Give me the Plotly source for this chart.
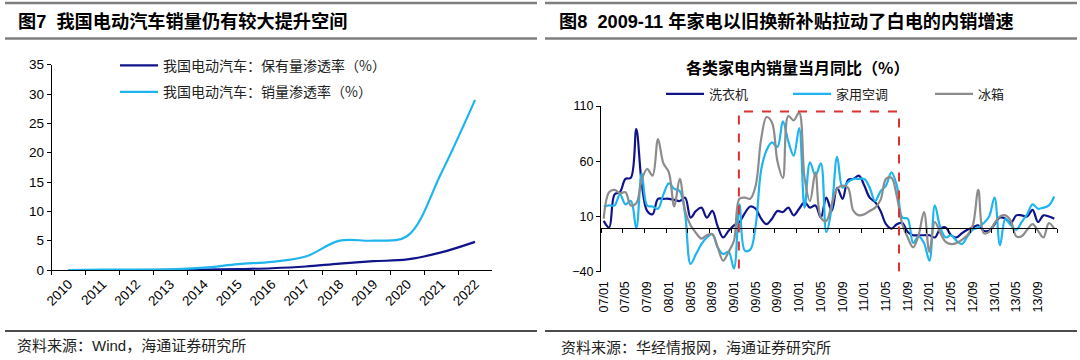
import plotly.graph_objects as go

W, H = 1080, 360

# ---------------- data: left chart ----------------
years = ["2010", "2011", "2012", "2013", "2014", "2015", "2016",
         "2017", "2018", "2019", "2020", "2021", "2022"]
stock_pen = [0.0, 0.0, 0.0, 0.02, 0.05, 0.15, 0.3, 0.6, 1.1, 1.5, 1.8, 3.0, 4.8]
sales_pen = [0.0, 0.05, 0.05, 0.1, 0.4, 1.0, 1.4, 2.3, 5.0, 5.0, 5.8, 16.5, 29.0]
left_names = ["我国电动汽车：保有量渗透率（%）", "我国电动汽车：销量渗透率（%）"]

# ---------------- data: right chart ----------------
months = [f"{y:02d}/{m:02d}" for y in range(7, 14) for m in range(1, 13)]
washer = [6, 0, 30, 32, 44, 45, 89, 40, 15, 12, 26, 26, 26, 25, 24, 27, 9, 15, 18, 9,
          15, 1, -9, -3, 2, 5, 13, 19, 17, 8, 3, 8, 15, 14, 18, 11, 17, 23, 18, 20,
          9, 27, 15, 36, 26, 43, 44, 47, 38, 27, 23, 15, 3, -1, 3, 4, -4, -7, -7, -7,
          -7, -9, -1, 0, -7, -9, -5, -2, 0, 2, -3, -3, 3, 9, 8, 4, 11, 11, 10, 16,
          5, 11, 10, 8]
aircon = [19, 20, 20, 30, 21, 24, -1, 49, 20, 19, 17, 30, 40, 35, 33, 12, -33, -24, -15, -9,
          -6, -18, -24, -22, -37, 21, -21, -20, 2, 52, 70, 77, 73, 96, 78, 65, 90, 18, 59, 47,
          58, -4, 18, 64, 36, 41, 44, 44, 44, 36, 24, 33, 38, 50, 38, 9, 8, -14, -8, -14,
          -30, 20, 0, -9, -7, -12, -15, -8, -2, 0, 4, 10, 27, -16, 8, 2, -2, 5, 12, 21,
          17, 18, 20, 28]
fridge = [8, 32, 34, 31, 32, 20, 22, 43, 53, 47, 80, 58, 50, 19, 44, 15, 2, -5, -10, -7,
          -6, -18, -30, -22, -12, 26, 27, 26, 38, 80, 100, 95, 60, 45, 101, 97, 104, 45, 24, 50,
          9, 6, 21, 35, 38, 36, 15, 11, 12, 15, 18, 25, 44, 45, 28, 3, -9, -18, -7, 14,
          -22, 5, -5, -13, -15, -14, -11, -7, 2, 34, -5, -4, 4, 10, 11, 6, -8, -8, -2, 3,
          -3, -9, 4, -1]
right_names = ["洗衣机", "家用空调", "冰箱"]
tick_labels = months[::4]
highlight = (24.9, 54.4, -41.5, 105.0)   # 2009-11 以旧换新 period box (x0, x1, y0, y1)

# ---------------- styling ----------------
NAVY = "#10148A"
SKY = "#1EB4EE"
GREY = "#8C8C8C"
CJK = "Noto Sans CJK SC"
LAT = "Liberation Sans, Arial, Noto Sans CJK SC"


def px_x(p):
    return p / W


def px_y(p):
    return 1 - p / H


fig = go.Figure()

# left traces
left_colors = [NAVY, SKY]
for k, (vals, name, col) in enumerate(zip([stock_pen, sales_pen], left_names, left_colors)):
    fig.add_trace(go.Scatter(
        x=years, y=vals, name=name, mode="lines",
        line=dict(color=col, width=2.2, shape="spline", smoothing=1),
        xaxis="x", yaxis="y", legend="legend" if k == 0 else "legend2",
        hoverinfo="skip"))

# right traces
right_colors = [NAVY, SKY, GREY]
right_legends = ["legend3", "legend4", "legend5"]
for vals, name, col, lg in zip([washer, aircon, fridge], right_names, right_colors, right_legends):
    fig.add_trace(go.Scatter(
        x=months, y=vals, name=name, mode="lines",
        line=dict(color=col, width=2.2, shape="spline", smoothing=1),
        xaxis="x2", yaxis="y2", legend=lg, hoverinfo="skip"))

# invisible helper trace for the zero-line axis with ticks
fig.add_trace(go.Scatter(x=months, y=washer, mode="lines", line=dict(width=0),
                         opacity=0, showlegend=False, hoverinfo="skip",
                         xaxis="x3", yaxis="y2"))

ydom2 = [px_y(271.7), px_y(106)]
yr2 = [-40, 110]
zero_pos = ydom2[0] + (0 - yr2[0]) / (yr2[1] - yr2[0]) * (ydom2[1] - ydom2[0])

axis_font = dict(family=LAT, size=13.5, color="#000000")
fig.update_layout(
    width=W, height=H, margin=dict(l=0, r=0, t=0, b=0, autoexpand=False),
    paper_bgcolor="white", plot_bgcolor="white",
    xaxis=dict(domain=[px_x(51.7), px_x(492)], anchor="y", type="category",
               range=[-0.5, len(years) - 0.5], tickson="boundaries",
               ticks="outside", ticklen=4, tickcolor="#000", showline=True,
               linecolor="#000", linewidth=1, showgrid=False, tickangle=-45,
               tickfont=axis_font, automargin=False),
    yaxis=dict(domain=[px_y(270), px_y(64.7)], anchor="x", range=[0, 35], dtick=5,
               ticks="outside", ticklen=4, tickcolor="#000", showline=True,
               linecolor="#000", linewidth=1, showgrid=False, zeroline=False,
               tickfont=axis_font, automargin=False),
    xaxis2=dict(domain=[px_x(601), px_x(1057)], anchor="y2", type="category",
                categoryorder="array", categoryarray=months,
                range=[-0.5, len(months) - 0.5], showline=False, ticks="",
                tickmode="array", tickvals=tick_labels, ticktext=tick_labels,
                tickangle=-90, ticklabelstandoff=6, showgrid=False, automargin=False,
                tickfont=dict(family=LAT, size=12.5, color="#000")),
    xaxis3=dict(domain=[px_x(601), px_x(1057)], anchor="free", position=zero_pos,
                overlaying="x2", type="category", categoryorder="array",
                categoryarray=months, range=[-0.5, len(months) - 0.5],
                showline=True, linecolor="#000", linewidth=1.5, ticks="outside",
                ticklen=4, tickcolor="#000", tickmode="array",
                tickvals=[i - 0.5 for i in range(0, len(months) + 1, 4)],
                showticklabels=False, showgrid=False, automargin=False),
    yaxis2=dict(domain=ydom2, anchor="x2", range=yr2, tickvals=[-40, 10, 60, 110],
                ticks="outside", ticklen=4, tickcolor="#000", showline=True,
                linecolor="#000", linewidth=1, showgrid=False, zeroline=False,
                automargin=False,
                tickfont=dict(family=LAT, size=12.5, color="#000")),
    showlegend=True,
)

leg_common = dict(bgcolor="rgba(0,0,0,0)", borderwidth=0, xanchor="left",
                  yanchor="middle", orientation="h", itemwidth=38)
fig.update_layout(
    legend=dict(x=px_x(115), y=px_y(65.7), font=dict(family=CJK, size=14, color="#222"), **leg_common),
    legend2=dict(x=px_x(115), y=px_y(92.3), font=dict(family=CJK, size=14, color="#222"), **leg_common),
    legend3=dict(x=px_x(661), y=px_y(94), font=dict(family=CJK, size=13, color="#222"), **leg_common),
    legend4=dict(x=px_x(788), y=px_y(94), font=dict(family=CJK, size=13, color="#222"), **leg_common),
    legend5=dict(x=px_x(930), y=px_y(94), font=dict(family=CJK, size=13, color="#222"), **leg_common),
)

shapes = []
# header / footer rules
for x0, x1 in [(5, 537), (545, 1077)]:
    for yy in (3, 38.5):
        shapes.append(dict(type="line", xref="paper", yref="paper",
                           x0=px_x(x0), x1=px_x(x1), y0=px_y(yy), y1=px_y(yy),
                           line=dict(color="#7F7F7F", width=2.6)))
    shapes.append(dict(type="line", xref="paper", yref="paper",
                       x0=px_x(x0), x1=px_x(x1), y0=px_y(331), y1=px_y(331),
                       line=dict(color="#111", width=1.3)))
# highlight box
hx0, hx1, hy0, hy1 = highlight
shapes.append(dict(type="rect", xref="x2", yref="y2", x0=hx0, x1=hx1, y0=hy0, y1=hy1,
                   line=dict(color="#E03030", width=2, dash="dash"),
                   fillcolor="rgba(0,0,0,0)"))
fig.update_layout(shapes=shapes)

title_font = dict(family=LAT, size=18.2, color="#000", weight="bold")
annotations = [
    dict(text="图7  我国电动汽车销量仍有较大提升空间", x=px_x(16), y=px_y(21.5),
         xanchor="left", yanchor="middle", font=title_font),
    dict(text="图8  2009-11 年家电以旧换新补贴拉动了白电的内销增速", x=px_x(557), y=px_y(21.5),
         xanchor="left", yanchor="middle", font=title_font),
    dict(text="各类家电内销量当月同比（%）", x=px_x(797), y=px_y(67),
         xanchor="center", yanchor="middle",
         font=dict(family=CJK, size=16, color="#000", weight="bold")),
    dict(text="资料来源：Wind，海通证券研究所", x=px_x(15), y=px_y(345.5),
         xanchor="left", yanchor="middle", font=dict(family=LAT, size=15, color="#222")),
    dict(text="资料来源：华经情报网，海通证券研究所", x=px_x(559), y=px_y(347.5),
         xanchor="left", yanchor="middle", font=dict(family=LAT, size=15, color="#222")),
]
for a in annotations:
    a.update(xref="paper", yref="paper", showarrow=False)
fig.update_layout(annotations=annotations)

fig.write_html("out.html",
               config={"displayModeBar": False, "staticPlot": True},
               post_script="document.body.style.margin='0px';document.body.style.overflow='hidden';")
